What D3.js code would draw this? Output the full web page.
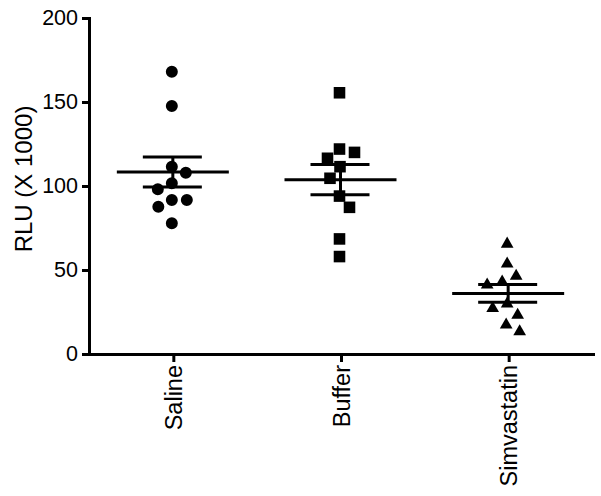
<!DOCTYPE html>
<html>
<head>
<meta charset="utf-8">
<script src="https://cdn.jsdelivr.net/npm/d3@7"></script>
<style>
  body { margin: 0; background: #fff; }
  svg text { font-family: "Liberation Sans", Arial, sans-serif; fill: #000; }
</style>
</head>
<body>
<script>
var svgWidth = 601;
var svgHeight = 496;

// data (RLU x 1000)
var groups = ["Saline", "Buffer", "Simvastatin"];
var saline = [168, 147.6, 111.5, 107.9, 101.6, 98, 91.7, 91.7, 87.7, 77.8];
var buffer = [155.5, 122, 120, 116.5, 111.5, 104.6, 94, 87.3, 68.5, 58];
var simvastatin = [65.5, 53.6, 46.4, 43, 41.1, 29.8, 27.2, 23.2, 17.3, 13.3];
var yTicks = [0, 50, 100, 150, 200];
var yTitle = "RLU (X 1000)";

var seriesValues = [saline, buffer, simvastatin];
var symbols = [d3.symbolCircle, d3.symbolSquare, d3.symbolTriangle];
var symbolSizes = [113, 134, 70];

var svg = d3.select("body").append("svg")
    .attr("width", svgWidth)
    .attr("height", svgHeight);

var xScale = d3.scaleBand()
    .domain(groups)
    .range([90, 593]);

var yScale = d3.scaleLinear()
    .domain([0, 200])
    .range([354, 18]);

// simple beeswarm: place each point as near the centre line as it can go
function swarm(values, r) {
    var placed = [];
    var order = values.map(function(v, i) { return i; })
        .sort(function(a, b) { return values[b] - values[a]; });
    var offsets = new Array(values.length);
    var side = 1;
    order.forEach(function(i) {
        var py = yScale(values[i]);
        var best = 0;
        for (var dx = 0; dx < 80; dx += 0.5) {
            var ok = null;
            [side * dx, -side * dx].some(function(c) {
                var clash = placed.some(function(p) {
                    var ddx = p.x - c, ddy = p.y - py;
                    return Math.sqrt(ddx * ddx + ddy * ddy) < 2 * r;
                });
                if (!clash) { ok = c; return true; }
                return false;
            });
            if (ok !== null) { best = ok; break; }
        }
        if (best !== 0) side = -side;
        placed.push({x: best, y: py});
        offsets[i] = best;
    });
    return offsets;
}

// axes
var yAxis = svg.append("g")
    .attr("transform", "translate(89,0)")
    .call(d3.axisLeft(yScale).tickValues(yTicks).tickSize(7).tickSizeOuter(0).tickPadding(4));

var xAxis = svg.append("g")
    .attr("transform", "translate(0,354)")
    .call(d3.axisBottom(xScale).tickSize(8).tickSizeOuter(0));

[yAxis, xAxis].forEach(function(a) {
    a.select(".domain").attr("stroke-width", 3).attr("stroke-linecap", "square");
    a.selectAll(".tick line").attr("stroke-width", 3);
});

yAxis.selectAll(".tick text")
    .attr("font-size", 21.5);

xAxis.selectAll(".tick text")
    .attr("font-size", 23.5)
    .attr("transform", "rotate(-90)")
    .attr("text-anchor", "end")
    .attr("x", -11)
    .attr("y", 0)
    .attr("dy", "0.35em");

svg.append("text")
    .attr("transform", "translate(24,179) rotate(-90)")
    .attr("text-anchor", "middle")
    .attr("dy", "0.35em")
    .attr("font-size", 24)
    .text(yTitle);

// points and mean +/- SEM
groups.forEach(function(g, gi) {
    var vals = seriesValues[gi];
    var cx = xScale(g) + xScale.bandwidth() / 2;
    var offs = swarm(vals, 7.5);
    var mean = d3.mean(vals);
    var sem = d3.deviation(vals) / Math.sqrt(vals.length);

    var grp = svg.append("g");

    grp.selectAll("path.pt")
        .data(vals)
        .enter()
        .append("path")
        .attr("class", "pt")
        .attr("d", d3.symbol().type(symbols[gi]).size(symbolSizes[gi]))
        .attr("transform", function(d, i) {
            return "translate(" + (cx - 2 + offs[i]) + "," + yScale(d) + ")";
        })
        .attr("fill", "#000");

    var lineCol = "#000";
    grp.append("line")
        .attr("x1", cx - 57).attr("x2", cx + 55)
        .attr("y1", yScale(mean)).attr("y2", yScale(mean))
        .attr("stroke", lineCol).attr("stroke-width", 3);
    [mean + sem, mean - sem].forEach(function(v) {
        grp.append("line")
            .attr("x1", cx - 31).attr("x2", cx + 28)
            .attr("y1", yScale(v)).attr("y2", yScale(v))
            .attr("stroke", lineCol).attr("stroke-width", 3);
    });
    grp.append("line")
        .attr("x1", cx - 1).attr("x2", cx - 1)
        .attr("y1", yScale(mean + sem)).attr("y2", yScale(mean - sem))
        .attr("stroke", lineCol).attr("stroke-width", 3);
});
</script>
</body>
</html>
